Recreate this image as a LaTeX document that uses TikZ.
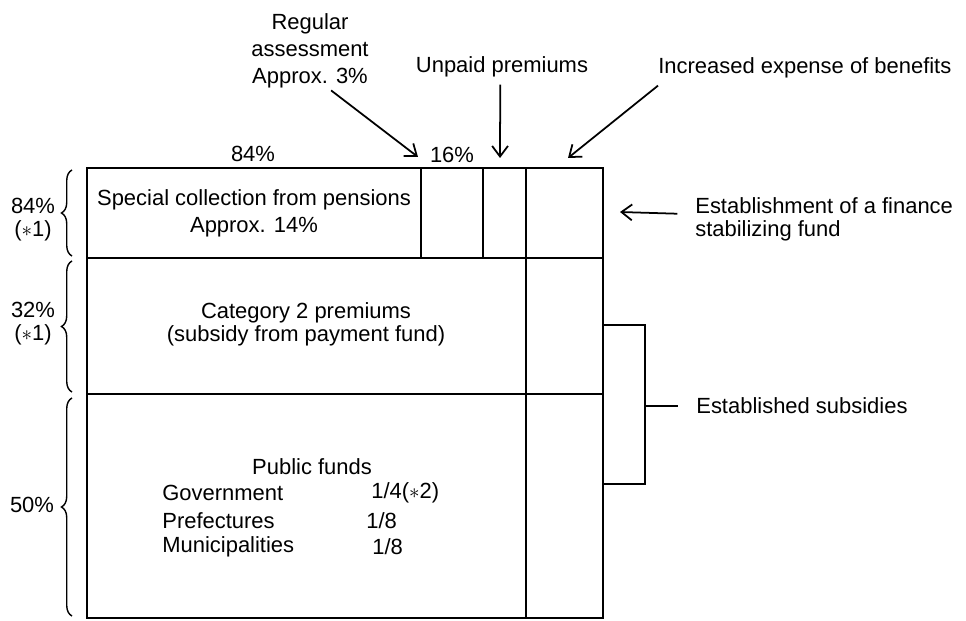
\documentclass[tikz,border=0pt]{standalone}
\usepackage{fontspec}
\setmainfont{Liberation Sans}
\usetikzlibrary{arrows.meta}
\usetikzlibrary{decorations.pathreplacing}
\tikzstyle{txt} = [inner sep=0pt, align=center, font=\fontsize{12.5pt}{15.4pt}\selectfont]
\tikzstyle{tight} = [font=\fontsize{12.5pt}{13.2pt}\selectfont]
\tikzstyle{frame} = [line width=1.3pt]
\tikzstyle{thin} = [line width=1pt]
\tikzstyle{pointer} = [line width=1pt, -{Straight Barb[length=6pt, width=9pt]}]
\tikzstyle{curly} = [decorate, decoration={brace, amplitude=6pt}, line width=0.8pt]

\begin{document}
\begin{tikzpicture}[x=0.02cm, y=-0.02cm]
    \useasboundingbox (0,0) rectangle (966,621);

    \draw[frame] (87,168) rectangle (603,618);
    \draw[frame] (87,258) -- (603,258);
    \draw[frame] (87,394) -- (603,394);
    \draw[frame] (421,168) -- (421,258);
    \draw[frame] (483,168) -- (483,258);
    \draw[frame] (526,168) -- (526,618);

    \node[txt] (special) at (254,213) {Special collection from pensions\\Approx. 14\%};
    \node[txt, tight] (cat2) at (306,324) {Category 2 premiums\\(subsidy from payment fund)};
    \node[txt] (public) at (312,467) {Public funds};
    \node[txt, anchor=west] (gov) at (162,493) {Government};
    \node[txt, anchor=west] (pref) at (162,521) {Prefectures};
    \node[txt, anchor=west] (muni) at (162,547) {Municipalities};
    \node[txt, anchor=west] (govval) at (371,493) {1/4($\ast$2)};
    \node[txt, anchor=west] (prefval) at (366,521) {1/8};
    \node[txt, anchor=west] (munival) at (372,547) {1/8};

    \node[txt] (top84) at (253,154) {84\%};
    \node[txt] (top16) at (452,155) {16\%};
    \node[txt] (regular) at (310,51) {Regular\\assessment\\Approx. 3\%};
    \node[txt] (unpaid) at (502,67) {Unpaid premiums};
    \node[txt, anchor=west] (increased) at (658,68) {Increased expense of benefits};
    \node[txt, tight, anchor=west, align=left] (finance) at (695,219) {Establishment of a finance\\stabilizing fund};
    \node[txt, anchor=west] (subsidies) at (696,406) {Established subsidies};

    \node[txt, tight] (left84) at (33,220) {84\%\\($\ast$1)};
    \node[txt, tight] (left32) at (33,324) {32\%\\($\ast$1)};
    \node[txt] (left50) at (32,505) {50\%};

    \coordinate (regtip) at (418,157);
    \coordinate (unpaidtip) at (500,158);
    \coordinate (incrtip) at (568,158);
    \coordinate (fintip) at (620,212);
    \coordinate (bracketmid) at (645,406);

    \draw[pointer] ([xshift=12pt, yshift=-1pt]regular.south) -- (regtip);
    \draw[pointer] ([xshift=-1pt, yshift=-4pt]unpaid.south) -- (unpaidtip);
    \draw[pointer] ([yshift=-4pt]increased.south west) -- (incrtip);
    \draw[pointer] ([xshift=-10pt, yshift=3pt]finance.west) -- (fintip);

    \draw[thin] (603,325) -- (645,325) -- (645,484) -- (603,484);
    \draw[thin] (bracketmid) -- ([xshift=-10pt]subsidies.west);

    \draw[curly] (72,256) -- (72,170);
    \draw[curly] (72,392) -- (72,261);
    \draw[curly] (72,616) -- (72,398);
\end{tikzpicture}
\end{document}
